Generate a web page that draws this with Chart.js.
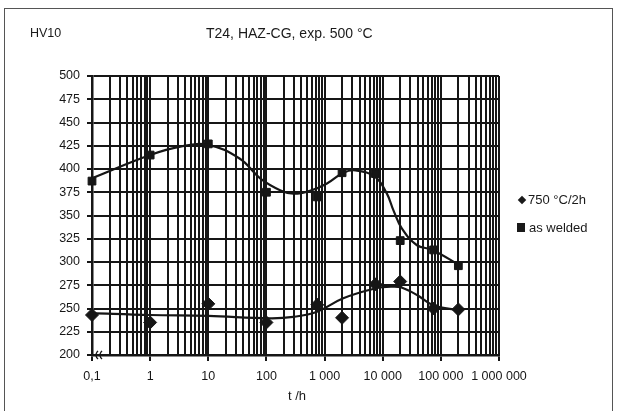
<!DOCTYPE html>
<html>
<head>
<meta charset="utf-8">
<script src="https://cdn.jsdelivr.net/npm/chart.js@4.4.1/dist/chart.umd.min.js"></script>
<style>
  html, body { margin: 0; padding: 0; background: #fff; overflow: hidden; }
  #wrap { position: relative; width: 618px; height: 411px; font-family: "Liberation Sans", Arial, sans-serif; color: #1a1a1a; }
  #frame { position: absolute; left: 4px; top: 8px; width: 609px; height: 410px; border: 1px solid #555; box-sizing: border-box; }
  canvas { position: absolute; left: 0; top: 0; }
  .txt { position: absolute; line-height: 1; white-space: nowrap; }
  .mk { position: absolute; background: #1a1a1a; }
</style>
</head>
<body>
<div id="wrap">
  <div id="frame"></div>
  <canvas id="c" width="618" height="411"></canvas>
  <div class="txt" id="yunit" style="left:30px;top:27px;font-size:12.5px"></div>
  <div class="txt" id="title" style="left:206px;top:26px;font-size:14px"></div>
  <div class="mk" style="left:519px;top:196.5px;width:6px;height:6px;transform:rotate(45deg)"></div>
  <div class="txt" id="leg0" style="left:528px;top:193px;font-size:13px"></div>
  <div class="mk" style="left:517px;top:223px;width:8px;height:9px"></div>
  <div class="txt" id="leg1" style="left:529px;top:221px;font-size:13px"></div>
  <div class="txt" id="xunit" style="left:288px;top:389px;font-size:13px"></div>
</div>
<script>
// Hardness HV10 vs. exposure time at 500 °C.

const TITLE = "T24, HAZ-CG, exp. 500 °C";
const Y_UNIT = "HV10";
const X_UNIT = "t /h";
const SERIES_NAMES = ["750 °C/2h", "as welded"];

// measured points
const TIMES = [0.1, 1, 10, 100, 750, 2000, 7500, 20000, 75000, 200000];
const HV_ANNEALED = [243, 235, 255, 235, 254, 240, 276, 279, 250, 249];
const HV_WELDED = [387, 415, 427, 375, 370, 396, 395, 323, 313, 296];

// trend curves as drawn in the original (not through every point)
const TREND_ANNEALED_T = [0.1, 1, 10, 115, 290, 740, 2100, 7400, 15000, 21000, 39000, 74000, 210000];
const TREND_ANNEALED_HV = [245, 243, 242, 239.5, 241, 246.5, 261, 271.5, 273.5, 272.5, 264.5, 253.5, 248];
const TREND_WELDED_T = [0.1, 1, 3.3, 10, 35, 78, 175, 290, 560, 1100, 2100, 3400, 7400, 11800, 15300, 21400, 38800, 72000, 209000];
const TREND_WELDED_HV = [390, 415, 424, 426, 411, 390, 377, 373.5, 376.5, 384.5, 396, 398.5, 391.5, 373.5, 355.5, 336, 318, 313, 296.5];

// axes
const X_DECADES = [0.1, 1, 10, 100, 1000, 10000, 100000, 1000000];
const X_LABELS = ["0,1", "1", "10", "100", "1 000", "10 000", "100 000", "1 000 000"];
const Y_TICKS = [200, 225, 250, 275, 300, 325, 350, 375, 400, 425, 450, 475, 500];

const INK = "#161616";
const FONT = { family: "'Liberation Sans', Arial, sans-serif", size: 12.5 };

document.getElementById("title").textContent = TITLE;
document.getElementById("yunit").textContent = Y_UNIT;
document.getElementById("xunit").textContent = X_UNIT;
document.getElementById("leg0").textContent = SERIES_NAMES[0];
document.getElementById("leg1").textContent = SERIES_NAMES[1];

// log grid: 1..9 in each decade
const xGrid = [];
X_DECADES.forEach((d, i) => {
  if (i === X_DECADES.length - 1) { xGrid.push(d); return; }
  for (let k = 1; k < 10; k++) xGrid.push(+(d * k).toPrecision(6));
});
const decadeIndex = v => X_DECADES.findIndex(d => Math.abs(v / d - 1) < 1e-6);

const pts = (xs, ys) => xs.map((x, i) => ({ x, y: ys[i] }));

// the little "((" axis break at the origin
const breakMark = {
  id: "breakMark",
  afterDraw(chart) {
    const { ctx } = chart;
    const x0 = chart.scales.x.left, y0 = chart.scales.y.bottom;
    ctx.save();
    ctx.strokeStyle = INK;
    ctx.lineWidth = 1.3;
    [4, 8].forEach(dx => {
      ctx.beginPath();
      ctx.arc(x0 + dx + 5, y0, 5, Math.PI * 0.7, Math.PI * 1.3);
      ctx.stroke();
    });
    ctx.restore();
  },
};

new Chart(document.getElementById("c"), {
  type: "line",
  data: {
    datasets: [
      { label: "trend 1", data: pts(TREND_ANNEALED_T, TREND_ANNEALED_HV), borderColor: INK, borderWidth: 2.2, pointRadius: 0, tension: 0.4, clip: false },
      { label: "trend 2", data: pts(TREND_WELDED_T, TREND_WELDED_HV), borderColor: INK, borderWidth: 2.2, pointRadius: 0, tension: 0.4, clip: false },
      { label: SERIES_NAMES[0], data: pts(TIMES, HV_ANNEALED), showLine: false, pointStyle: "rectRot", pointRadius: 6.5,
        backgroundColor: INK, borderColor: INK, borderWidth: 1, clip: false },
      { label: SERIES_NAMES[1], data: pts(TIMES, HV_WELDED), showLine: false, pointStyle: "rect", pointRadius: 5.5,
        backgroundColor: INK, borderColor: INK, borderWidth: 1, clip: false },
    ],
  },
  options: {
    responsive: false,
    animation: false,
    events: [],
    layout: { padding: { left: 0, top: 76, right: 119, bottom: 0 } },
    plugins: { legend: { display: false }, title: { display: false }, tooltip: { enabled: false } },
    scales: {
      x: {
        type: "logarithmic", min: 0.1, max: 1000000,
        afterBuildTicks: s => { s.ticks = xGrid.map(value => ({ value })); },
        afterFit: s => { s.height = 56; },
        ticks: {
          autoSkip: false, maxRotation: 0, padding: 8, color: INK, font: FONT,
          callback: v => { const i = decadeIndex(v); return i < 0 ? "" : X_LABELS[i]; },
        },
        grid: {
          color: INK, lineWidth: 2, tickLength: 6,
          tickColor: c => (c.tick && decadeIndex(c.tick.value) >= 0) ? INK : "rgba(0,0,0,0)",
        },
        border: { color: INK, width: 2.5 },
      },
      y: {
        min: 200, max: 500,
        afterBuildTicks: s => { s.ticks = Y_TICKS.map(value => ({ value })); },
        afterFit: s => { s.width = 92; },
        ticks: { padding: 7, color: INK, font: FONT },
        grid: { color: INK, lineWidth: 2, tickLength: 5 },
        border: { color: INK, width: 2.5 },
      },
    },
  },
  plugins: [breakMark],
});
</script>
</body>
</html>
